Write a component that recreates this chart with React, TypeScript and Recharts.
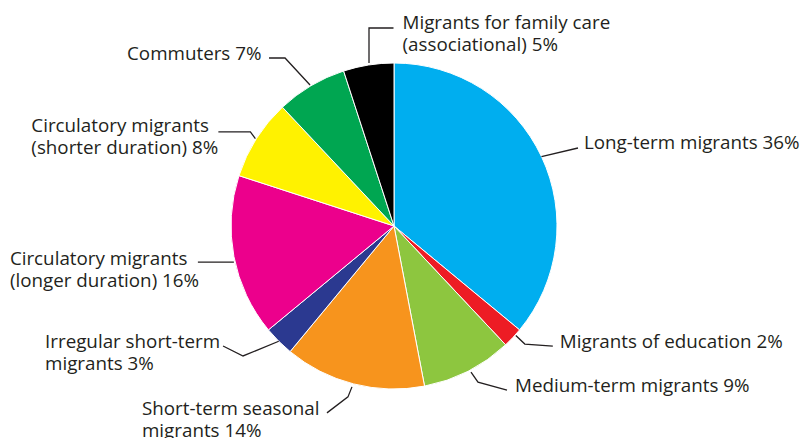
import { PieChart, Pie, Cell } from 'recharts'

const categories = [
  'Long-term migrants',
  'Migrants of education',
  'Medium-term migrants',
  'Short-term seasonal migrants',
  'Irregular short-term migrants',
  'Circulatory migrants (longer duration)',
  'Circulatory migrants (shorter duration)',
  'Commuters',
  'Migrants for family care (associational)',
]

const shares = [36, 2, 9, 14, 3, 16, 8, 7, 5]

const labelLines = [
  ['Long-term migrants'],
  ['Migrants of education'],
  ['Medium-term migrants'],
  ['Short-term seasonal', 'migrants'],
  ['Irregular short-term', 'migrants'],
  ['Circulatory migrants', '(longer duration)'],
  ['Circulatory migrants', '(shorter duration)'],
  ['Commuters'],
  ['Migrants for family care', '(associational)'],
]

const COLORS = [
  '#00aeef',
  '#ed1c24',
  '#8dc63f',
  '#f7941d',
  '#2b3990',
  '#ec008c',
  '#fff200',
  '#00a651',
  '#000000',
]

// leader line points (relative to the slice's outer mid point) and text offset (relative to line end)
const LEADERS = [
  { pts: [[0, 0], [36.5, -8.6]], tx: 6, ty: 1.5 },
  { pts: [[3, -2], [12, 6.5], [40, 8.5]], tx: 7, ty: 2 },
  { pts: [[3, 1], [10, 11], [39, 19]], tx: 8, ty: 1.5 },
  { pts: [[-1.5, 3], [-5.5, 13], [-26.5, 29]], tx: -185, ty: 2 },
  { pts: [[0, 0], [-35.7, 14.7], [-55.7, 4.7]], tx: -178, ty: 1.7 },
  { pts: [[0, 5.5], [-36, 5.5]], tx: -188, ty: 2.5 },
  { pts: [[-1, 0], [-6, -6.7], [-38, -6.7]], tx: -187, ty: 0.3 },
  { pts: [[-1, -0.7], [-26, -27.7], [-42, -27.7]], tx: -142, ty: 2 },
  { pts: [[0.5, -2], [0.5, -37], [25, -37]], tx: 9, ty: 1.3 },
]

const data = categories.map((name, i) => ({ name, value: shares[i] }))

const RAD = Math.PI / 180
const TEXT = '#231f20'

function renderLabel(props: any) {
  const { cx, cy, midAngle, outerRadius, index } = props
  const px = cx + outerRadius * Math.cos(-midAngle * RAD)
  const py = cy + outerRadius * Math.sin(-midAngle * RAD)
  const lay = LEADERS[index]
  const pts = lay.pts.map(([dx, dy]) => [px + dx, py + dy])
  const end = pts[pts.length - 1]
  const lines = labelLines[index].slice()
  lines[lines.length - 1] = `${lines[lines.length - 1]} ${shares[index]}%`
  const x = end[0] + lay.tx
  const y = end[1] + lay.ty
  return (
    <g key={`lbl-${index}`}>
      <polyline
        points={pts.map((p) => p.join(',')).join(' ')}
        fill="none"
        stroke={TEXT}
        strokeWidth={1.3}
      />
      <text x={x} y={y} fill={TEXT} fontSize={18.8} fontFamily="'Open Sans', sans-serif" textAnchor="start">
        {lines.map((l, j) => (
          <tspan key={j} x={x} dy={j === 0 ? 0 : 22}>
            {l}
          </tspan>
        ))}
      </text>
    </g>
  )
}

export default function App() {
  return (
    <div style={{ position: 'absolute', left: 0, top: 0, width: 804, height: 438, background: '#fff' }}>
      <PieChart width={804} height={438} margin={{ top: 0, right: 0, bottom: 0, left: 0 }}>
        <Pie
          data={data}
          dataKey="value"
          nameKey="name"
          cx={394}
          cy={226}
          outerRadius={163}
          startAngle={90}
          endAngle={-270}
          stroke="#fff"
          strokeWidth={1}
          label={renderLabel}
          labelLine={false}
          isAnimationActive={false}
        >
          {data.map((d, i) => (
            <Cell key={d.name} fill={COLORS[i]} />
          ))}
        </Pie>
      </PieChart>
    </div>
  )
}
